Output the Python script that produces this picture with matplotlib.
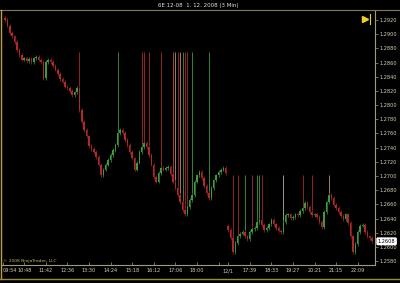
import numpy as np
import matplotlib.pyplot as plt
from matplotlib.lines import Line2D

title = "6E 12-08  1. 12. 2008 (3 Min)"

# close of every bar
closes = [1.2920, 1.2912, 1.2902, 1.2897, 1.2889, 1.2878, 1.2871, 1.2864, 1.2866, 1.2862,
          1.2865, 1.2861, 1.2866, 1.2868, 1.2864, 1.2861, 1.2838, 1.2861, 1.2864, 1.2861,
          1.2855, 1.2850, 1.2844, 1.2837, 1.2833, 1.2826, 1.2824, 1.2820, 1.2814, 1.2818,
          1.2824, 1.2793, 1.2776, 1.2765, 1.2756, 1.2742, 1.2738, 1.2734, 1.2727, 1.2716,
          1.2701, 1.2709, 1.2716, 1.2723, 1.2730, 1.2737, 1.2744, 1.2761, 1.2765, 1.2761,
          1.2751, 1.2744, 1.2734, 1.2725, 1.2709, 1.2719, 1.2734, 1.2741, 1.2747, 1.2741,
          1.2730, 1.2716, 1.2699, 1.2692, 1.2704, 1.2711, 1.2709, 1.2711, 1.2713, 1.2703,
          1.2692, 1.2683, 1.2673, 1.2663, 1.2652, 1.2646, 1.2656, 1.2666, 1.2673, 1.2692,
          1.2701, 1.2706, 1.2697, 1.2686, 1.2676, 1.2669, 1.2683, 1.2694, 1.2701, 1.2706,
          1.2709, 1.2711, 1.2704, 1.2624, 1.2613, 1.2593, 1.2606, 1.2615, 1.2619, 1.2621,
          1.2615, 1.2611, 1.2621, 1.2625, 1.2627, 1.2635, 1.2638, 1.2631, 1.2624, 1.2627,
          1.2632, 1.2638, 1.2632, 1.2627, 1.2623, 1.2621, 1.2635, 1.2645, 1.2646, 1.2641,
          1.2642, 1.2646, 1.2645, 1.2651, 1.2655, 1.2662, 1.2656, 1.2649, 1.2645, 1.2646,
          1.2642, 1.2635, 1.2628, 1.2649, 1.2663, 1.2673, 1.2669, 1.2659, 1.2655, 1.2649,
          1.2644, 1.2639, 1.2646, 1.2634, 1.2615, 1.2593, 1.2604, 1.2621, 1.2630, 1.2631,
          1.2621, 1.2615, 1.2613, 1.2608]
first_open = 1.2923
gap_idx = 93          # new session
gap_open = 1.2630

# bars with a tall wick (bad ticks)
spike_idx = [31, 47, 57, 58, 60, 65, 70, 71, 72, 73, 74, 75, 76, 78, 85,
             95, 97, 100, 103, 105, 106, 107, 116, 124, 128, 135]
spike_top = [1.2875] * 15 + [1.2702] * 11
spike_col = ['#a82a2a', '#3c9c3c', '#a82a2a', '#a82a2a', '#a82a2a', '#a82a2a', '#b0583a',
             '#c88a6a', '#a82a2a', '#c88a6a', '#3c9c3c', '#a82a2a', '#a82a2a', '#3c9c3c', '#3c9c3c',
             '#a82a2a', '#a82a2a', '#3c9c3c', '#a82a2a', '#3c9c3c', '#3c9c3c', '#a82a2a',
             '#9cbc9c', '#a82a2a', '#a82a2a', '#c8906a']

tick_pos = [-1, 8, 17, 26, 35, 44, 53, 62, 71, 80, 89, 93, 102, 111, 120, 129, 138, 147]
tick_lab = ["09:54", "10:48", "11:42", "12:36", "13:30", "14:24", "15:18", "16:12", "17:06",
            "18:00", "", "12/1", "17:39", "18:33", "19:27", "20:21", "21:15", "22:09"]

price_ticks = [1.2580, 1.2600, 1.2620, 1.2640, 1.2660, 1.2680, 1.2700, 1.2720, 1.2740,
               1.2760, 1.2780, 1.2800, 1.2820, 1.2840, 1.2860, 1.2880, 1.2900, 1.2920]
last_price = 1.2608

c = np.array(closes)
o = np.concatenate([[first_open], c[:-1]])
o[gap_idx] = gap_open
x = np.arange(len(c))
wick = 0.00025
hi = np.maximum(o, c) + wick
lo = np.minimum(o, c) - wick
up = c >= o
col = np.where(up, '#3c9c3c', '#b02828')

fig = plt.figure(figsize=(4, 2.83), dpi=100, facecolor='black')
ax = fig.add_axes([2 / 400, 18 / 283, 373 / 400, 255 / 283])
ax.set_facecolor('black')

ax.vlines(x, lo, hi, colors=col, linewidth=0.5)
ax.bar(x, np.maximum(np.abs(c - o), 0.00008), bottom=np.minimum(o, c), width=0.6,
       color=col, linewidth=0)
ax.vlines(spike_idx, hi[spike_idx], spike_top, colors=spike_col, linewidth=0.6)

ax.set_xlim(-1.25, 154.2)
ax.set_ylim(1.25746, 1.29341)

ax.set_xticks(tick_pos, tick_lab)
ax.set_yticks(price_ticks, ["%.4f" % p for p in price_ticks])
ax.yaxis.tick_right()
ax.tick_params(axis='x', direction='in', length=2, width=0.5, color='#a09a80',
               labelsize=3.6, labelcolor='#d8d0b0', pad=2.5)
ax.tick_params(axis='y', direction='out', length=2, width=0.5, color='#a09a80',
               labelsize=3.6, labelcolor='#d8d0b0', pad=1)
# first time label sits on the left edge
ax.get_xticklabels()[0].set_horizontalalignment('left')

for s in ['top', 'left']:
    ax.spines[s].set_visible(False)
ax.spines['right'].set_color('#a09a80')
ax.spines['bottom'].set_color('#a09a80')
ax.spines['right'].set_linewidth(0.8)
ax.spines['bottom'].set_linewidth(0.8)

# current price box
ax.annotate("%.4f" % last_price, xy=(1.0, last_price), xycoords=('axes fraction', 'data'),
            xytext=(2, 0), textcoords='offset points', va='center', ha='left',
            fontsize=3.6, color='black',
            bbox=dict(boxstyle='round,pad=0.15', fc='white', ec='white'))

# go-to-end marker
ax.plot([0.973], [0.965], marker='>', markersize=4, color='#f0d020', transform=ax.transAxes,
        clip_on=False)
ax.plot([0.986, 0.986], [0.945, 0.985], color='#f0d020', linewidth=0.8, transform=ax.transAxes)

ax.text(0.004, 0.006, "\u00a9 2008 NinjaTrader, LLC", transform=ax.transAxes,
        fontsize=3.2, color='#c8b060', ha='left', va='bottom')

fig.text(0.495, 1 - 5 / 283, title, ha='center', va='center', color='#e0e0e0', fontsize=4)

# window frame lines
ytop = 1 - 10 / 283
fig.add_artist(Line2D([0, 1], [ytop, ytop], color='#807860', linewidth=0.8))
fig.add_artist(Line2D([0.002, 0.002], [4 / 283, ytop], color='#b8a050', linewidth=1.0))
fig.add_artist(Line2D([0, 1], [4 / 283, 4 / 283], color='#a08a40', linewidth=1.0))

fig.savefig("out.png", dpi=100, facecolor='black')
